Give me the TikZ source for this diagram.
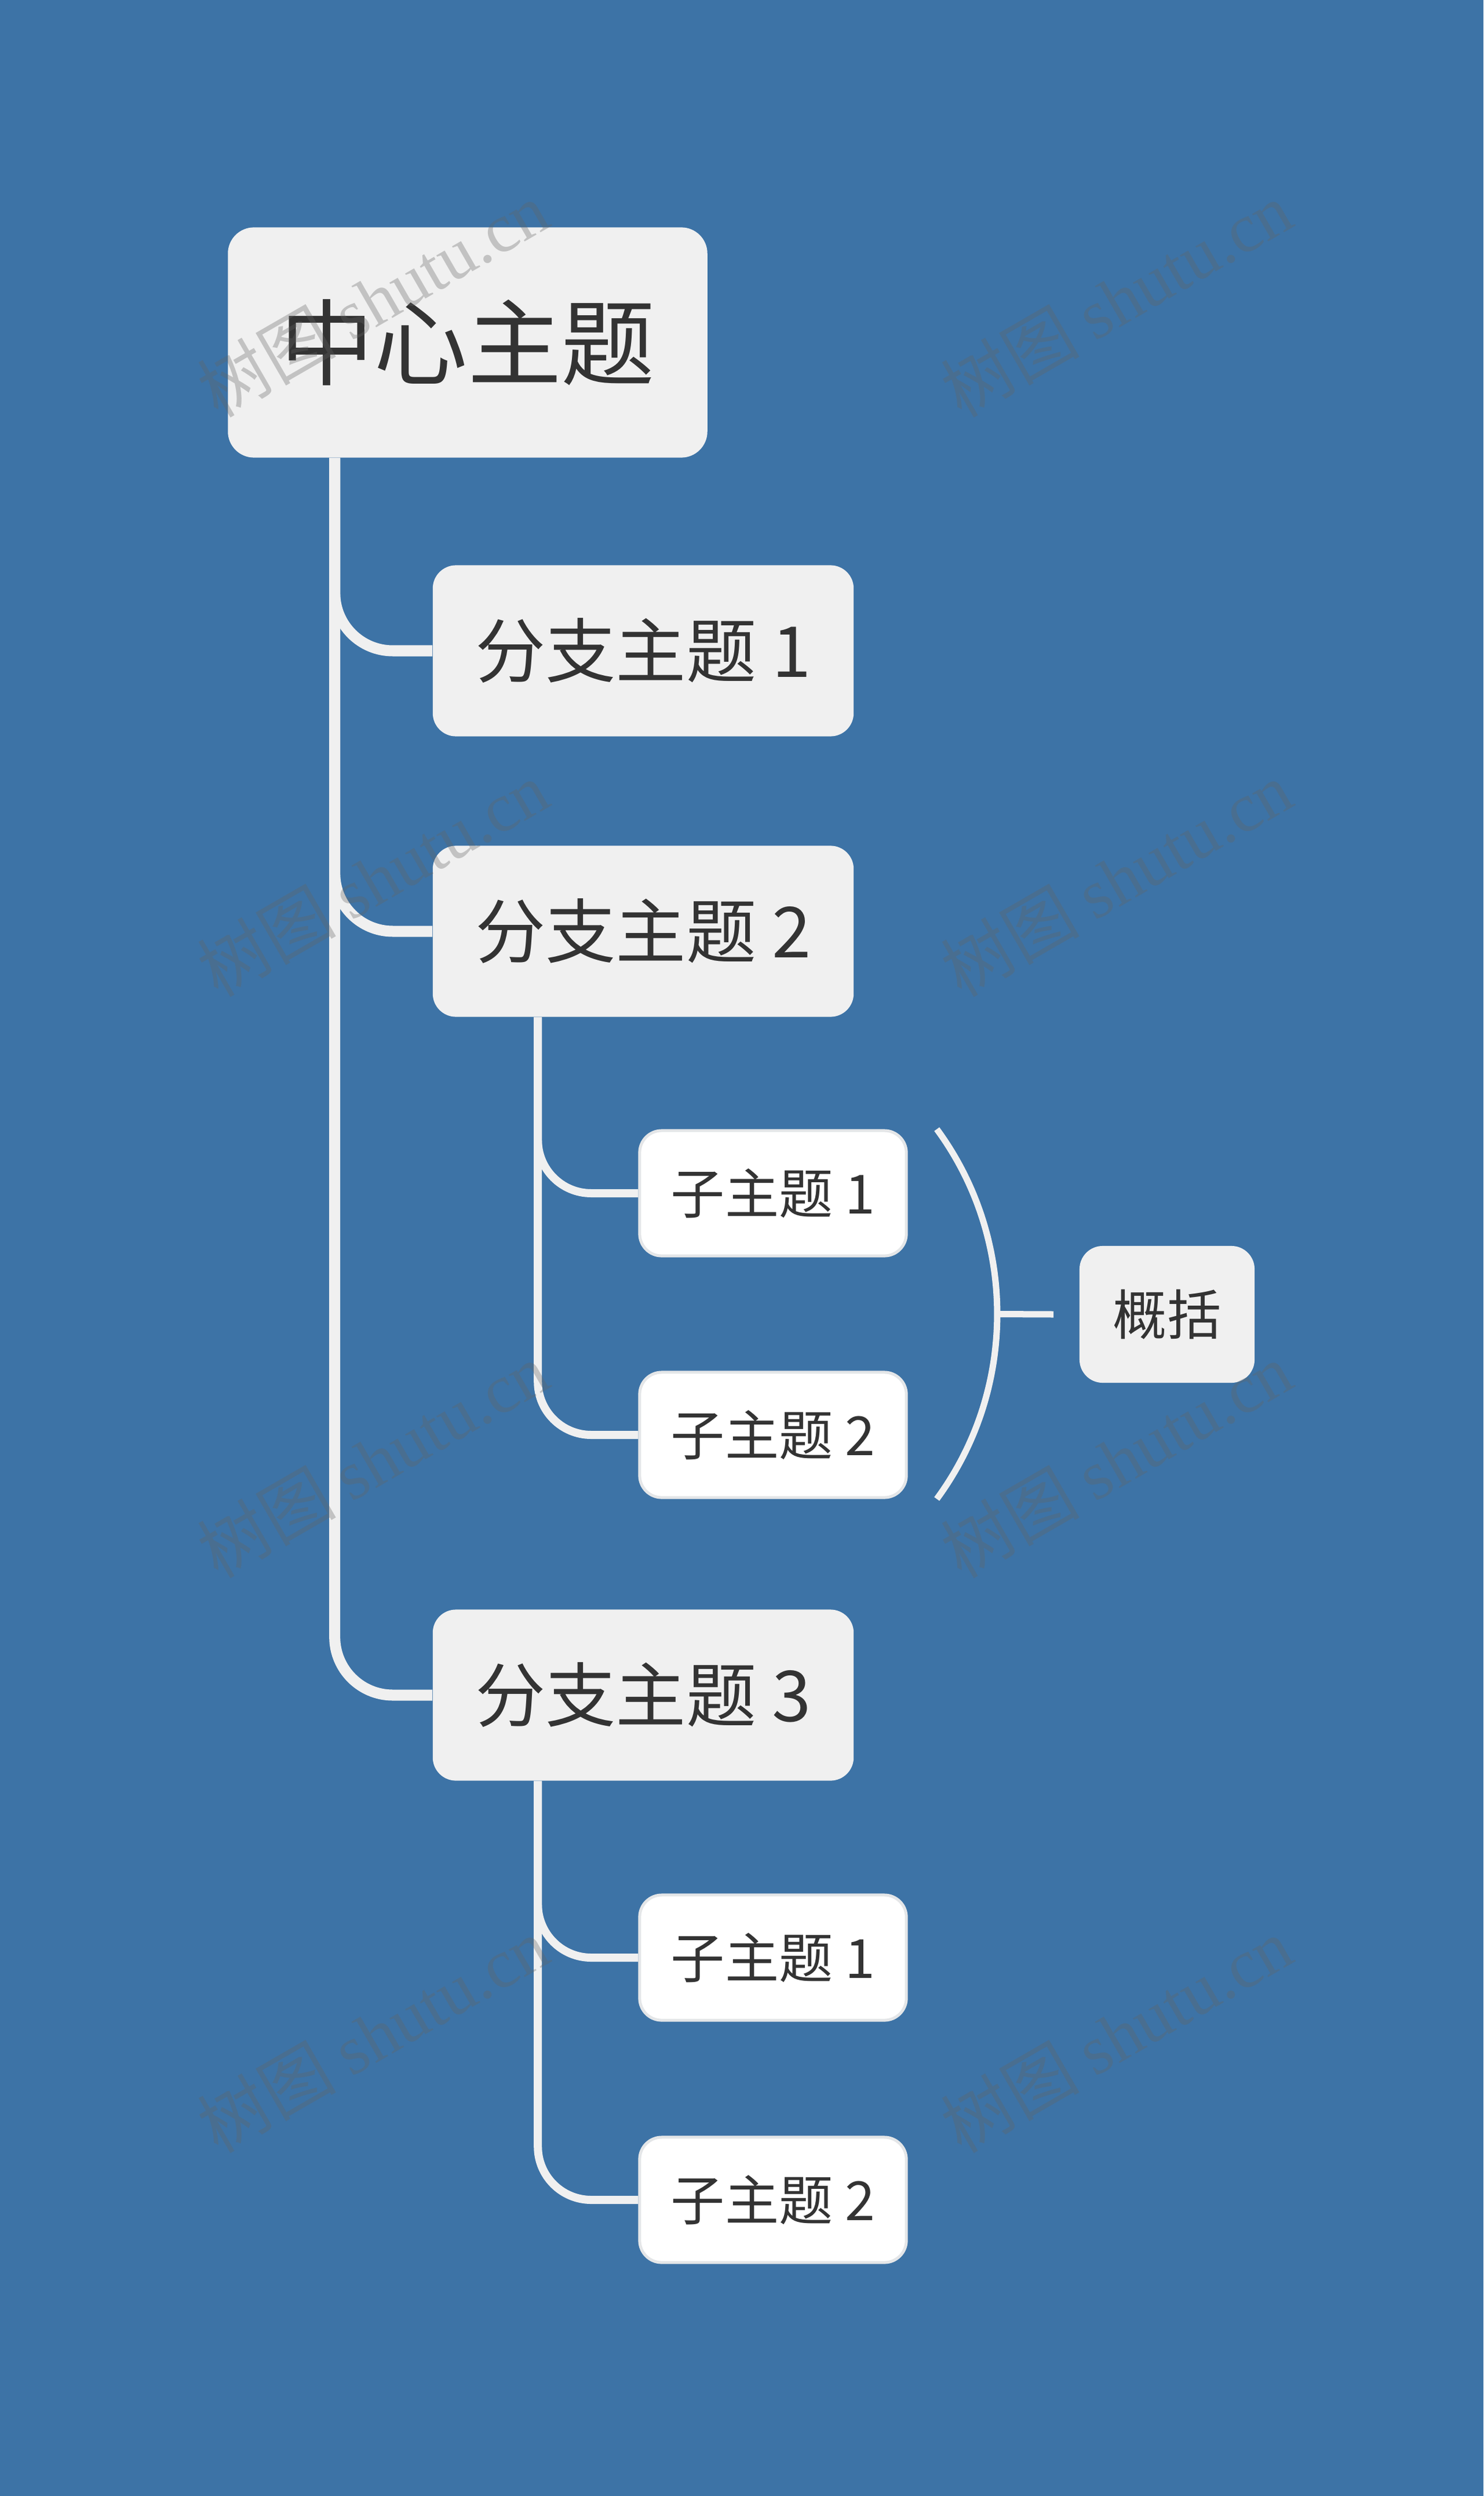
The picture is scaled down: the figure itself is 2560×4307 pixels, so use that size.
\documentclass[tikz,border=0pt]{standalone}
\usepackage{fontspec}
\setmainfont{Noto Sans CJK SC}
\newfontfamily\wmlatin{Liberation Serif}
\usetikzlibrary{calc}
\definecolor{bgblue}{RGB}{61,115,166}
\definecolor{boxgray}{RGB}{240,240,240}
\definecolor{txtgray}{RGB}{51,51,51}
\definecolor{linegray}{RGB}{240,240,240}
\definecolor{subborder}{RGB}{228,230,232}
\definecolor{wmgray}{RGB}{100,100,100}
\tikzset{
  mainbox/.style={fill=boxgray, text=txtgray, rounded corners=0.45cm,
    minimum width=8.27cm, minimum height=3.97cm, inner sep=0pt,
    font=\fontsize{46pt}{50pt}\selectfont},
  branchbox/.style={fill=boxgray, text=txtgray, rounded corners=0.4cm,
    minimum width=7.26cm, minimum height=2.95cm, inner sep=0pt,
    font=\fontsize{34.5pt}{38pt}\selectfont},
  subbox/.style={fill=white, draw=subborder, line width=0.05cm, text=txtgray,
    rounded corners=0.38cm, minimum width=4.6cm, minimum height=2.16cm, inner sep=0pt,
    font=\fontsize{26.5pt}{30pt}\selectfont},
  sumbox/.style={fill=boxgray, text=txtgray, rounded corners=0.4cm,
    minimum width=3.02cm, minimum height=2.36cm, inner sep=0pt,
    font=\fontsize{26.5pt}{30pt}\selectfont},
  trunk/.style={draw=linegray, line width=0.19cm, rounded corners=1cm},
  subtrunk/.style={draw=linegray, line width=0.14cm, rounded corners=0.92cm},
  brace/.style={draw=linegray, line width=0.11cm},
  wm/.style={text=wmgray, text opacity=0.32, rotate=30, inner sep=0pt,
    font=\fontsize{34pt}{36pt}\selectfont}
}
\begin{document}
\begin{tikzpicture}[x=0.01cm, y=-0.01cm]
\useasboundingbox (0,0) rectangle (2560,4307);
\fill[bgblue] (0,0) rectangle (2560,4307);

\node[mainbox] (c) at (807,591) {中心主题};
\node[branchbox] (b1) at (1110,1123) {分支主题 1};
\node[branchbox] (b2) at (1110,1607) {分支主题 2};
\node[branchbox] (b3) at (1110,2925) {分支主题 3};
\node[subbox] (s21) at (1334,2059) {子主题 1};
\node[subbox] (s22) at (1334,2476) {子主题 2};
\node[subbox] (s31) at (1334,3378) {子主题 1};
\node[subbox] (s32) at (1334,3796) {子主题 2};
\node[sumbox] (sum) at (2014,2268) {概括};

\draw[trunk] ([xshift=1.85cm]c.south west) |- (b1.west);
\draw[trunk] ([xshift=1.85cm]c.south west) |- (b2.west);
\draw[trunk] ([xshift=1.85cm]c.south west) |- (b3.west);
\draw[subtrunk] ([xshift=1.82cm]b2.south west) |- (s21.west);
\draw[subtrunk] ([xshift=1.82cm]b2.south west) |- (s22.west);
\draw[subtrunk] ([xshift=1.82cm]b3.south west) |- (s31.west);
\draw[subtrunk] ([xshift=1.82cm]b3.south west) |- (s32.west);

% summary brace
\coordinate (bt) at ([xshift=0.5cm]s21.north east);
\coordinate (bb) at ([xshift=0.5cm]s22.south east);
\coordinate (bm) at ($(bt)!0.5!(bb)+(104,0)$);
\draw[brace] (bt) .. controls +(139,189) and +(139,-189) .. (bb);
\draw[brace] (bm) -- ([xshift=-0.44cm]sum.west);

% watermarks
\node[wm] (w1) at (643,516) {树图 {\wmlatin shutu.cn}};
\node[wm] (w2) at (1926,516) {树图 {\wmlatin shutu.cn}};
\node[wm] (w3) at (643,1516) {树图 {\wmlatin shutu.cn}};
\node[wm] (w4) at (1926,1516) {树图 {\wmlatin shutu.cn}};
\node[wm] (w5) at (643,2519) {树图 {\wmlatin shutu.cn}};
\node[wm] (w6) at (1926,2519) {树图 {\wmlatin shutu.cn}};
\node[wm] (w7) at (643,3511) {树图 {\wmlatin shutu.cn}};
\node[wm] (w8) at (1926,3511) {树图 {\wmlatin shutu.cn}};
\end{tikzpicture}
\end{document}
